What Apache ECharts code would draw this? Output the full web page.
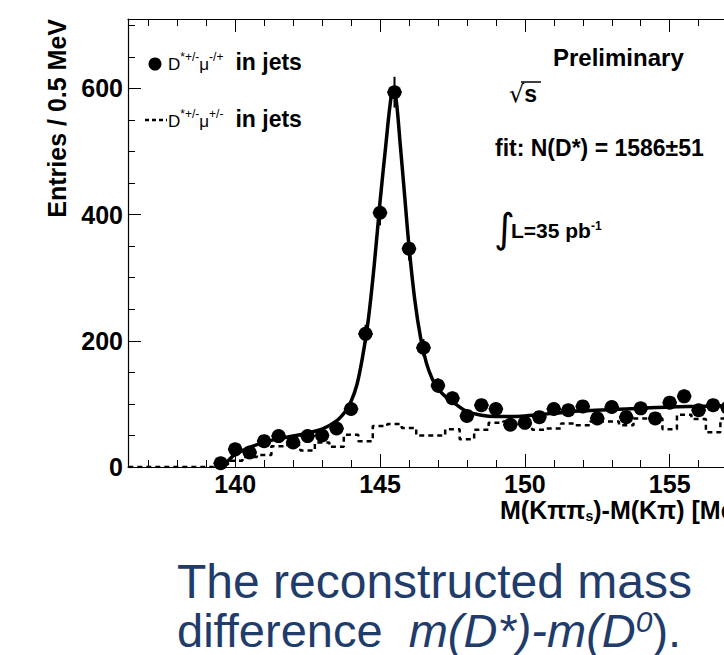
<!DOCTYPE html>
<html>
<head>
<meta charset="utf-8">
<script src="https://cdn.jsdelivr.net/npm/echarts@6/dist/echarts.min.js"></script>
<style>
html,body{margin:0;padding:0;overflow:hidden;background:#fff;}
#chart{width:780px;height:655px;}
</style>
</head>
<body>
<div id="chart"></div>
<script>
// ---- data ----
// opposite-sign D*mu pairs in jets (points), bin centres in MeV
const binCenters = [139.5,140.0,140.5,141.0,141.5,142.0,142.5,143.0,143.5,144.0,144.5,145.0,145.5,146.0,146.5,147.0,147.5,148.0,148.5,149.0,149.5,150.0,150.5,151.0,151.5,152.0,152.5,153.0,153.5,154.0,154.5,155.0,155.5,156.0,156.5,157.0,157.5];
const oppositeSign = [6,28,23,41,49,39,49,50,61,92,211,403,594,346,189,129,109,81,98,92,67,70,79,92,90,96,77,95,79,93,77,102,112,90,98,94,95];
const oppositeErr = [2.5,5.3,4.8,6.4,7.0,6.2,7.0,7.1,7.8,9.6,14.5,20.1,24.4,18.6,13.7,11.4,10.4,9.0,9.9,9.6,8.2,8.4,8.9,9.6,9.5,9.8,8.8,9.7,8.9,9.6,8.8,10.1,10.6,9.5,9.9,9.7,9.7];
// same-sign D*mu pairs in jets (dashed histogram)
const sameCenters = [136.0,136.5,137.0,137.5,138.0,138.5,139.0,139.5,140.0,140.5,141.0,141.5,142.0,142.5,143.0,143.5,144.0,144.5,145.0,145.5,146.0,146.5,147.0,147.5,148.0,148.5,149.0,149.5,150.0,150.5,151.0,151.5,152.0,152.5,153.0,153.5,154.0,154.5,155.0,155.5,156.0,156.5,157.0,157.5,158.0];
const sameSign = [0,0,0,0,0,0,0,4,10,16,19,33,35,26,39,32,51,41,65,68,62,50,50,60,44,59,70,72,68,59,61,69,66,72,72,66,77,77,60,83,76,55,77,70,70];
// fit curve, read point by point
const fitX = [139.57,139.8,140.0,140.5,141.0,141.5,142.0,142.5,143.0,143.5,143.8,144.0,144.2,144.4,144.6,144.8,145.0,145.2,145.35,145.45,145.55,145.7,145.85,146.0,146.2,146.4,146.6,146.8,147.0,147.3,147.6,148.0,148.5,149.0,149.5,150.0,151.0,152.0,153.0,154.0,155.0,156.0,157.0,158.0];
const fitY = [0,12,20,31,39,45,49,54,60,73,88,104,130,175,235,320,420,510,575,598,585,510,430,350,265,205,165,140,124,110,100,88,82,80,80,81,85,89,91,93,95,96,97,98];
// axis ticks
const xMajorTicks = [140,145,150,155];
const xMinorTicks = [137,138,139,140,141,142,143,144,145,146,147,148,149,150,151,152,153,154,155,156,157];
const yMajorTicks = [0,200,400,600];
const yMinorTicks = [0,50,100,150,200,250,300,350,400,450,500,550,600,650,700];

const X_MIN = 136.3, X_MAX = 157.6, Y_MIN = 0, Y_MAX = 710;
const FONT = 'Liberation Sans';

const chart = echarts.init(document.getElementById('chart'), null, {renderer:'svg'});

function xAx(pos, ticks, len, showLine, showLabel){
  return {
    type:'value', position:pos, min:X_MIN, max:X_MAX,
    axisLine:{show:showLine, onZero:false, lineStyle:{color:'#000', width:1.2}},
    axisTick:{show:true, inside:true, length:len, customValues:ticks, lineStyle:{color:'#000', width:1}},
    axisLabel:{show:showLabel, customValues:xMajorTicks, margin:4, color:'#000', fontFamily:FONT, fontWeight:'bold', fontSize:25},
    splitLine:{show:false}
  };
}
function yAx(ticks, len, showLine, showLabel){
  return {
    type:'value', position:'left', min:Y_MIN, max:Y_MAX,
    axisLine:{show:showLine, onZero:false, lineStyle:{color:'#000', width:1.2}},
    axisTick:{show:true, inside:true, length:len, customValues:ticks, lineStyle:{color:'#000', width:1}},
    axisLabel:{show:showLabel, customValues:yMajorTicks, margin:5, color:'#000', fontFamily:FONT, fontWeight:'bold', fontSize:25},
    splitLine:{show:false}
  };
}

const pointData = binCenters.map((x,i)=>[x, oppositeSign[i], oppositeErr[i]]);
const sameData = sameCenters.map((x,i)=>[x, sameSign[i]]);
const fitData = fitX.map((x,i)=>[x, fitY[i]]);

const legendRich = {
  d:{font:'17px "Liberation Sans"', fill:'#000', verticalAlign:'bottom', padding:[0,0,1,0]},
  s:{font:'12px "Liberation Sans"', fill:'#000', verticalAlign:'top'},
  g:{font:'bold 22px "Liberation Sans"', fill:'#000', width:12},
  b:{font:'bold 23px "Liberation Sans"', fill:'#000', verticalAlign:'bottom'}
};

const option = {
  animation:false,
  backgroundColor:'#fff',
  grid:{left:128, right:35, top:19, bottom:188, containLabel:false, outerBoundsMode:'none'},
  xAxis:[
    xAx('bottom', xMajorTicks, 13, true, true),
    xAx('bottom', xMinorTicks, 7, false, false),
    xAx('top', xMajorTicks, 13, true, false),
    xAx('top', xMinorTicks, 7, false, false)
  ],
  yAxis:[
    yAx(yMajorTicks, 13, true, true),
    yAx(yMinorTicks, 7, false, false)
  ],
  series:[
    {type:'line', name:'same sign', data:sameData, step:'middle', showSymbol:false, symbol:'none',
     lineStyle:{color:'#000', width:2.5, type:[5,4]}, clip:true, z:2},
    {type:'line', name:'fit', data:fitData, smooth:0.35, showSymbol:false, symbol:'none',
     lineStyle:{color:'#000', width:3.5}, clip:true, z:3},
    {type:'custom', name:'errors', data:pointData, clip:true, z:4,
     renderItem:function(params, api){
       const x = api.value(0), y = api.value(1), e = api.value(2);
       const t = api.coord([x, y+e]), b = api.coord([x, y-e]);
       const l = api.coord([x-0.25, y]), r = api.coord([x+0.25, y]);
       return {type:'group', children:[
         {type:'line', shape:{x1:t[0],y1:t[1],x2:b[0],y2:b[1]}, style:{stroke:'#000', lineWidth:2}},
         {type:'line', shape:{x1:l[0],y1:l[1],x2:r[0],y2:r[1]}, style:{stroke:'#000', lineWidth:2}}
       ]};
     }},
    {type:'scatter', name:'opposite sign', data:pointData, symbol:'circle', symbolSize:14,
     itemStyle:{color:'#000', opacity:1}, clip:true, z:5}
  ],
  graphic:[
    // y-axis title
    {type:'text', x:57, y:19, rotation:Math.PI/2,
     style:{text:'Entries / 0.5 MeV', fill:'#000', font:'bold 25px "Liberation Sans"', textAlign:'right', textVerticalAlign:'middle'}},
    // x-axis title
    {type:'text', x:500, y:510,
     style:{text:'M(Kππ{sub|s})-M(Kπ) [MeV]', fill:'#000', font:'bold 25px "Liberation Sans"', textAlign:'left', textVerticalAlign:'middle',
       rich:{sub:{font:'bold 14px "Liberation Sans"', fill:'#000', verticalAlign:'bottom', padding:[12,0,0,0]}}}},
    // legend
    {type:'circle', shape:{cx:155, cy:64, r:6.5}, style:{fill:'#000'}},
    {type:'text', x:168, y:62,
     style:{text:'{d|D}{s|*+/-}{d|μ}{s|-/+}{g| }{b|in jets}', fill:'#000', textAlign:'left', textVerticalAlign:'middle', rich:legendRich}},
    {type:'line', shape:{x1:145, y1:120, x2:167, y2:120}, style:{stroke:'#000', lineWidth:2.5, lineDash:[4,3]}},
    {type:'text', x:168, y:119,
     style:{text:'{d|D}{s|*+/-}{d|μ}{s|+/-}{g| }{b|in jets}', fill:'#000', textAlign:'left', textVerticalAlign:'middle', rich:legendRich}},
    // annotations
    {type:'text', x:553, y:57,
     style:{text:'Preliminary', fill:'#000', font:'bold 24px "Liberation Sans"', textAlign:'left', textVerticalAlign:'middle'}},
    {type:'text', x:509, y:94,
     style:{text:'{r|√}{s|s}', fill:'#000', textAlign:'left', textVerticalAlign:'middle',
       rich:{r:{font:'24px "DejaVu Sans"', fill:'#000'}, s:{font:'bold 23px "Liberation Sans"', fill:'#000'}}}},
    {type:'line', shape:{x1:521, y1:82, x2:541, y2:82}, style:{stroke:'#000', lineWidth:1.5}},
    {type:'text', x:495, y:148,
     style:{text:'fit: N(D*) = 1586±51', fill:'#000', font:'bold 23px "Liberation Sans"', textAlign:'left', textVerticalAlign:'middle'}},
    {type:'text', x:494, y:228,
     style:{text:'∫', fill:'#000', font:'40px "DejaVu Sans"', textAlign:'left', textVerticalAlign:'middle'}},
    {type:'text', x:511, y:230,
     style:{text:'L=35 pb{s|-1}', fill:'#000', font:'bold 21px "Liberation Sans"', textAlign:'left', textVerticalAlign:'middle',
       rich:{s:{font:'bold 12px "Liberation Sans"', fill:'#000', verticalAlign:'top'}}}},
    // caption
    {type:'text', x:177, y:581,
     style:{text:'The reconstructed mass', fill:'#1f3c6b', font:'48px "Liberation Sans"', textAlign:'left', textVerticalAlign:'middle'}},
    {type:'text', x:177, y:630,
     style:{text:'difference  {i|m(D*)-m(D}{sup|0}).', fill:'#1f3c6b', font:'47px "Liberation Sans"', textAlign:'left', textVerticalAlign:'middle',
       rich:{i:{font:'italic 47px "Liberation Sans"', fill:'#1f3c6b', verticalAlign:'bottom'},
             sup:{font:'italic 30px "Liberation Sans"', fill:'#1f3c6b', verticalAlign:'top'}}}}
  ]
};
chart.setOption(option);
</script>
</body>
</html>
